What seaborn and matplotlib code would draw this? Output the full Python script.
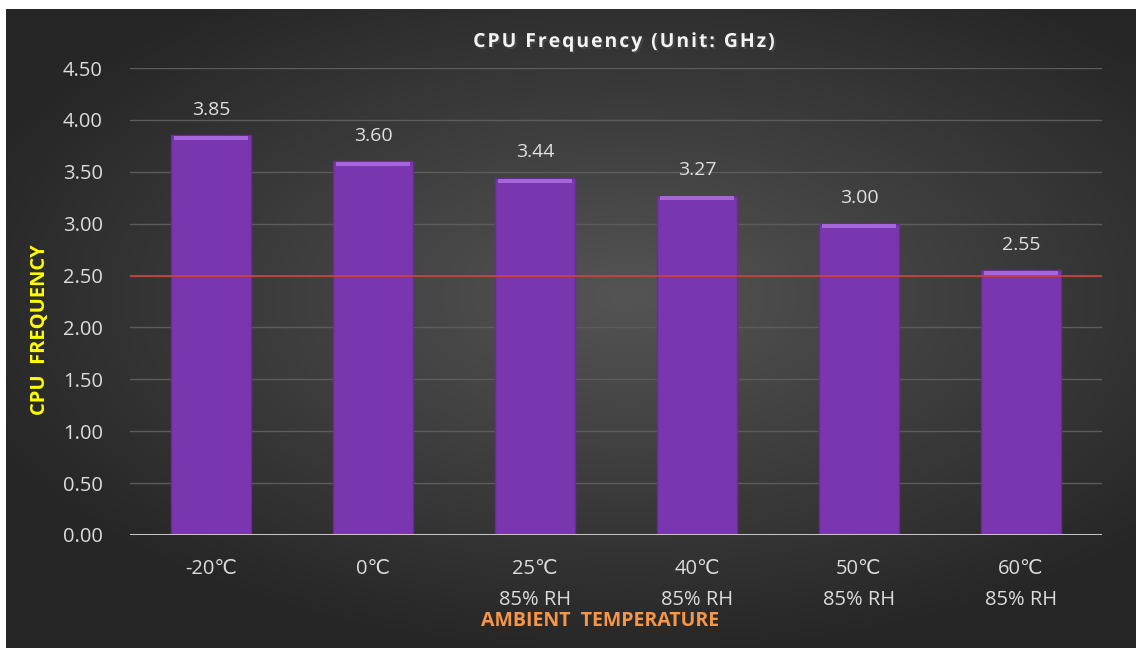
import numpy as np
import matplotlib
matplotlib.use("Agg")
import matplotlib.pyplot as plt
import matplotlib.patheffects as pe
import seaborn as sns

# data
temps = ["-20℃", "0℃", "25℃\n85% RH", "40℃\n85% RH", "50℃\n85% RH", "60℃\n85% RH"]
freq_ghz = [3.85, 3.60, 3.44, 3.27, 3.00, 2.55]
threshold = 2.50
y_ticks = [0.0, 0.5, 1.0, 1.5, 2.0, 2.5, 3.0, 3.5, 4.0, 4.5]
title = "CPU Frequency (Unit: GHz)"

sns.set_style("dark")
plt.rcParams["font.family"] = ["Open Sans", "DejaVu Sans"]

W, H = 1136, 648
fig = plt.figure(figsize=(W / 100, H / 100), dpi=100, facecolor="white")

# dark radial gradient background
bg = fig.add_axes([6 / W, 0, 1 - 6 / W, 1 - 9 / H], zorder=-5)
gx, gy = np.meshgrid(np.linspace(-1, 1, 400), np.linspace(-1, 1, 240))
dist = np.sqrt(((gx - 0.1) / 1.1) ** 2 + ((gy + 0.1) / 1.0) ** 2)
shade = np.clip(0.33 - 0.16 * dist, 0.15, 0.33)
bg.imshow(np.dstack([shade, shade, shade]), aspect="auto", extent=[0, 1, 0, 1])
bg.set_axis_off()

ax = fig.add_axes([130 / W, 1 - 535 / H, 972 / W, 467 / H])
ax.set_facecolor("none")

sns.barplot(x=temps, y=freq_ghz, color="#7a36ae", width=0.49,
            saturation=1, edgecolor="#6a2a9a", linewidth=1, ax=ax, zorder=3)

# lighter bevel strip on top of each bar
ax.bar(range(len(temps)), [0.04] * len(temps),
       bottom=[v - 0.045 for v in freq_ghz], width=0.46,
       color="#a566dc", linewidth=0, zorder=4)

for i, v in enumerate(freq_ghz):
    ax.annotate(f"{v:.2f}", (i, v), xytext=(0, 12), textcoords="offset points",
                ha="center", va="bottom", fontsize=14, color="#e0e0e0")

ax.set_ylim(0, 4.5)
ax.set_xlim(-0.5, len(temps) - 0.5)
ax.set_yticks(y_ticks)
ax.set_yticklabels([f"{t:.2f}" for t in y_ticks])
ax.yaxis.grid(True, color="#5c5c5c", linewidth=1)
ax.xaxis.grid(False)
ax.axhline(threshold, color="#c8423a", linewidth=1.3, zorder=5)
ax.axhline(0, color="#c4c4c4", linewidth=2.2, zorder=6)

ax.tick_params(axis="both", length=0, labelsize=14.5, labelcolor="#dcdcdc")
ax.tick_params(axis="y", pad=19.5)
ax.tick_params(axis="x", pad=17)
for lbl in ax.get_xticklabels():
    lbl.set_linespacing(1.75)
    lbl.set_verticalalignment("top")
for s in ax.spines.values():
    s.set_visible(False)

fig.text(625 / W, 1 - 42 / H, "\u200a".join(title), ha="center", va="center",
         fontsize=14, fontweight="bold", color="#f2f2f2",
         path_effects=[pe.withSimplePatchShadow(offset=(1.5, -1.5), alpha=0.7)])
fig.text(40 / W, 1 - 330 / H, "CPU  FREQUENCY", rotation=90, ha="center", va="center",
         fontsize=14.5, fontweight="bold", color="#ffff00")
fig.text(600 / W, 1 - 621 / H, "AMBIENT  TEMPERATURE", ha="center", va="center",
         fontsize=14, fontweight="bold", color="#f79646")

fig.savefig("out.png", dpi=100, facecolor="white")
